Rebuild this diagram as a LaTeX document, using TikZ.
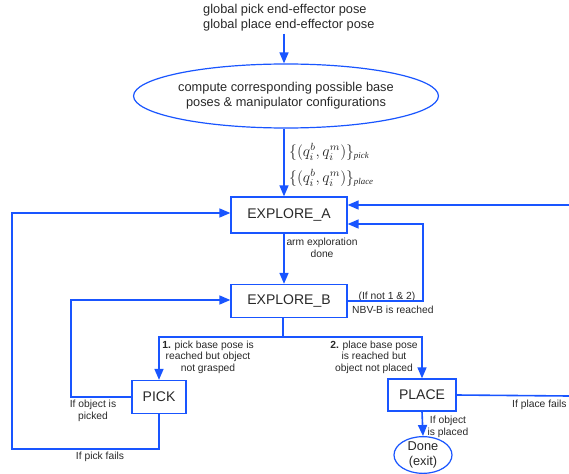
\documentclass[tikz,border=0pt]{standalone}
\usepackage{fontspec}
\setmainfont{Liberation Sans}
\newfontfamily\serifit{Liberation Serif}[ItalicFont={Liberation Serif Italic}]
\usetikzlibrary{arrows.meta,shapes.geometric}
\definecolor{fblue}{RGB}{25,85,255}
\definecolor{ftext}{RGB}{40,40,40}
\newcommand{\subw}[1]{\mbox{\fontsize{6.8}{7}\selectfont\serifit\itshape #1}}
\newcommand{\qpair}[1]{\scalebox{1.3}{$\{(q_i^b,q_i^m)\}_{\subw{#1}}$}}
\tikzset{
  line/.style={draw=fblue,line width=1.6pt},
  arr/.style={line,-{Triangle[length=11pt,width=9pt]}},
  statebox/.style={draw=fblue,line width=1.3pt,rectangle,inner sep=0pt,text=ftext,font=\fontsize{14}{16}\selectfont},
  lbl/.style={text=ftext,inner sep=0pt,font=\fontsize{10.3}{11.6}\selectfont},
  mlbl/.style={text=ftext,inner sep=0pt,anchor=west,font=\fontsize{12}{14}\selectfont},
}
\begin{document}
\begin{tikzpicture}[x=1pt,y=-1pt]
\useasboundingbox (0,0) rectangle (569,473);
% nodes
\node[text=ftext,inner sep=0pt,anchor=west,align=left,font=\fontsize{12.8}{15}\selectfont] (top) at (203,18) {global pick end-effector pose\\global place end-effector pose};
\node[ellipse,draw=fblue,line width=1.2pt,minimum width=248pt,minimum height=64pt,inner sep=0pt,align=center,text=ftext,font=\fontsize{12.8}{15}\selectfont] (ell) at (286,96) {compute corresponding possible base\\poses \& manipulator configurations};
\node[statebox,minimum width=116pt,minimum height=36pt] (A) at (289,215) {EXPLORE\_A};
\node[statebox,minimum width=116pt,minimum height=33pt] (B) at (289,301) {EXPLORE\_B};
\node[statebox,minimum width=54pt,minimum height=33pt] (pick) at (159,397) {PICK};
\node[statebox,minimum width=68pt,minimum height=32pt] (place) at (422,395) {PLACE};
\node[ellipse,draw=fblue,line width=1.2pt,minimum width=58pt,minimum height=35pt,inner sep=0pt,align=center,text=ftext,font=\fontsize{12.8}{14.5}\selectfont] (done) at (423,455) {Done\\(exit)};
% free ends
\coordinate (rinA) at (569,205);
\coordinate (routP) at (569,396);
% labels
\node[mlbl] (m1) at (289,152) {\qpair{pick}};
\node[mlbl] (m2) at (289,178) {\qpair{place}};
\node[lbl,align=center] (l1) at (322,248) {arm exploration\\done};
\node[lbl] (l2) at (387,297) {(If not 1 \& 2)};
\node[lbl,anchor=west] (l3) at (352,310) {NBV-B is reached};
\node[lbl,align=center] (l4) at (208,357) {\textbf{1.} pick base pose is\\reached but object\\not grasped};
\node[lbl,align=center] (l5) at (374,357) {\textbf{2.} place base pose\\is reached but\\object not placed};
\node[lbl,align=center] (l6) at (93,411) {If object is\\picked};
\node[lbl] (l7) at (100,457) {If pick fails};
\node[lbl,anchor=west] (l8) at (512,405) {If place fails};
\node[lbl,align=center] (l9) at (448,427) {If object\\is placed};
% connectors
\draw[arr] (top.south -| ell.north) ++(-2,2) -- ([xshift=-2pt]ell.north);
\draw[arr] ([xshift=-2pt]ell.south) -- ([xshift=-2pt]ell.south |- A.north);
\draw[arr] ([xshift=-5pt]A.south) -- ([xshift=-5pt]B.north);
\draw[arr] (rinA) -- ([yshift=10pt]A.east);
\draw[arr] (B.east) -- (423,301) -- (423,224) -- ([yshift=-9pt]A.east);
\draw[arr] ([xshift=-6pt]B.south) -- (283,337) -| (pick.north);
\draw[arr] (283,337) -| (place.north);
\draw[arr] (pick.west) -- (71,397) -- (71,300) -- ([yshift=1pt]B.west);
\draw[arr] (pick.south) -- (159,449) -- (12,449) -- (12,213) -- ([yshift=2pt]A.west);
\draw[line] (place.east) -- (routP);
\draw[arr] (place.south) -- (done.north);
\end{tikzpicture}
\end{document}
